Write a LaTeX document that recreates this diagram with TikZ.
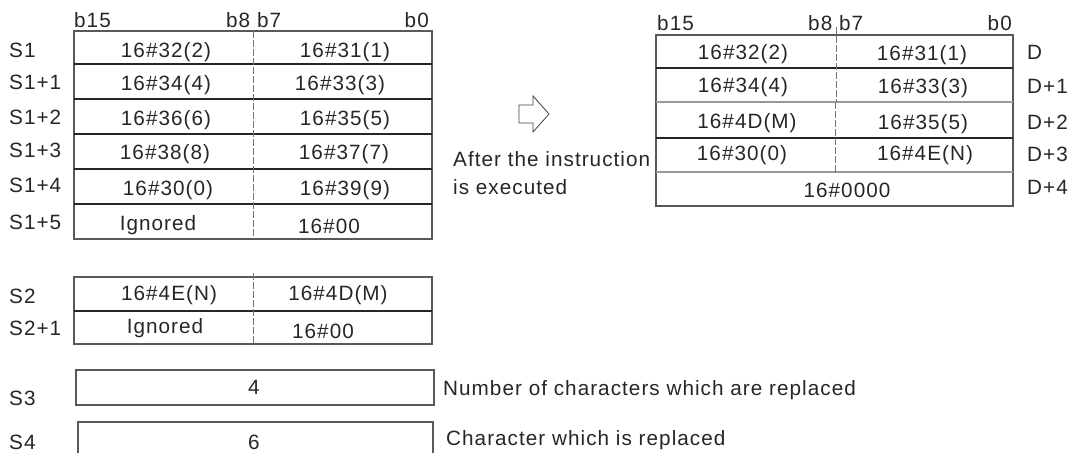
\documentclass[tikz,border=0pt]{standalone}
\usepackage{fontspec}
\setmainfont{Liberation Sans}[LetterSpace=5]
\begin{document}
\begin{tikzpicture}[x=1pt,y=-1pt,
  font=\fontsize{20.7}{24}\selectfont,
  every node/.style={text=black!85},
  txt/.style={inner sep=0pt, text height=14.8pt, text depth=0pt, anchor=center},
  lab/.style={txt, anchor=west},
  labr/.style={txt, anchor=east},
  frame/.style={draw=black!65, line width=1.1pt},
  sep/.style={draw=black!85, line width=1.1pt},
  div/.style={draw=black!55, line width=0.8pt, dash pattern=on 7pt off 2pt},
  sepgray/.style={draw=black!40, line width=2.6pt},
  hollowarrow/.style={draw=black!75, line width=0.8pt, line join=miter}
]
\useasboundingbox (0,0) rectangle (1069,453);

% ---------------- left table S1 ----------------
\node[lab]  (h1a) at (74,20) {b15};
\node[lab]  (h1b) at (226,20) {b8 b7};
\node[labr] (h1c) at (429,20) {b0};

\draw[frame] (74,31) rectangle (432,239);
\foreach \y in {64,99,134,169,204} \draw[sep] (74,\y) -- (432,\y);
\draw[div] (253,31) -- (253,239);

\node[lab] (ls1)  at (9,50)  {S1};
\node[lab] (ls11) at (9,82)  {S1+1};
\node[lab] (ls12) at (9,117) {S1+2};
\node[lab] (ls13) at (9,150) {S1+3};
\node[lab] (ls14) at (9,185) {S1+4};
\node[lab] (ls15) at (9,222) {S1+5};

\node[txt] (c1a) at (166,50)  {16\#32(2)};
\node[txt] (c1b) at (345,50)  {16\#31(1)};
\node[txt] (c2a) at (166,83)  {16\#34(4)};
\node[txt] (c2b) at (340,83)  {16\#33(3)};
\node[txt] (c3a) at (166,118) {16\#36(6)};
\node[txt] (c3b) at (345,118) {16\#35(5)};
\node[txt] (c4a) at (165,152) {16\#38(8)};
\node[txt] (c4b) at (344,152) {16\#37(7)};
\node[txt] (c5a) at (168,188) {16\#30(0)};
\node[txt] (c5b) at (345,188) {16\#39(9)};
\node[txt] (c6a) at (158,223) {Ignored};
\node[txt] (c6b) at (329,226) {16\#00};

% ---------------- S2 ----------------
\draw[frame] (74,277) rectangle (432,344);
\draw[sep] (74,311) -- (432,311);
\draw[div] (253,273) -- (253,344);
\node[lab] (ls2)  at (9,296) {S2};
\node[lab] (ls21) at (9,328) {S2+1};
\node[txt] (d1a) at (169,293) {16\#4E(N)};
\node[txt] (d1b) at (338,293) {16\#4D(M)};
\node[txt] (d2a) at (165,326) {Ignored};
\node[txt] (d2b) at (323,331) {16\#00};

% ---------------- S3 / S4 ----------------
\draw[frame] (76,370) rectangle (434,405);
\node[lab] (ls3) at (9,398) {S3};
\node[txt] (v3)  at (254,387) {4};
\node[lab] (n3)  at (443,388) {Number of characters which are replaced};

\draw[frame] (78,453) -- (78,422) -- (433,422) -- (433,453);
\node[lab] (ls4) at (9,442) {S4};
\node[txt] (v4)  at (254,442) {6};
\node[lab] (n4)  at (446,438) {Character which is replaced};

% ---------------- arrow and note ----------------
\draw[hollowarrow] (519,105) -- (533,105) -- (533,96) -- (549,114)
   -- (533,132) -- (533,123) -- (519,123) -- cycle;
\node[lab] (after1) at (453,159) {After the instruction};
\node[lab] (after2) at (453,187) {is executed};

% ---------------- right table D ----------------
\node[lab]  (h2a) at (657,23) {b15};
\node[lab]  (h2b) at (808,23) {b8 b7};
\node[labr] (h2c) at (1012,23) {b0};

\draw[frame] (656,35) rectangle (1013,206);
\draw[sep] (656,68) -- (1013,68);
\draw[sep] (656,138) -- (1013,138);
\draw[sepgray] (656,102) -- (1013,102);
\draw[sepgray] (656,172) -- (1013,172);
\draw[div] (836,27) -- (836,102);
\draw[div] (835,102) -- (835,172);

\node[txt] (e1a) at (743,52)  {16\#32(2)};
\node[txt] (e1b) at (922,53)  {16\#31(1)};
\node[txt] (e2a) at (743,85)  {16\#34(4)};
\node[txt] (e2b) at (923,86)  {16\#33(3)};
\node[txt] (e3a) at (747,121) {16\#4D(M)};
\node[txt] (e3b) at (923,122) {16\#35(5)};
\node[txt] (e4a) at (742,153) {16\#30(0)};
\node[txt] (e4b) at (925,153) {16\#4E(N)};
\node[txt] (e5)  at (847,190) {16\#0000};

\node[lab] (rd0) at (1027,52)  {D};
\node[lab] (rd1) at (1027,86)  {D+1};
\node[lab] (rd2) at (1027,122) {D+2};
\node[lab] (rd3) at (1027,154) {D+3};
\node[lab] (rd4) at (1027,187) {D+4};
\end{tikzpicture}
\end{document}
